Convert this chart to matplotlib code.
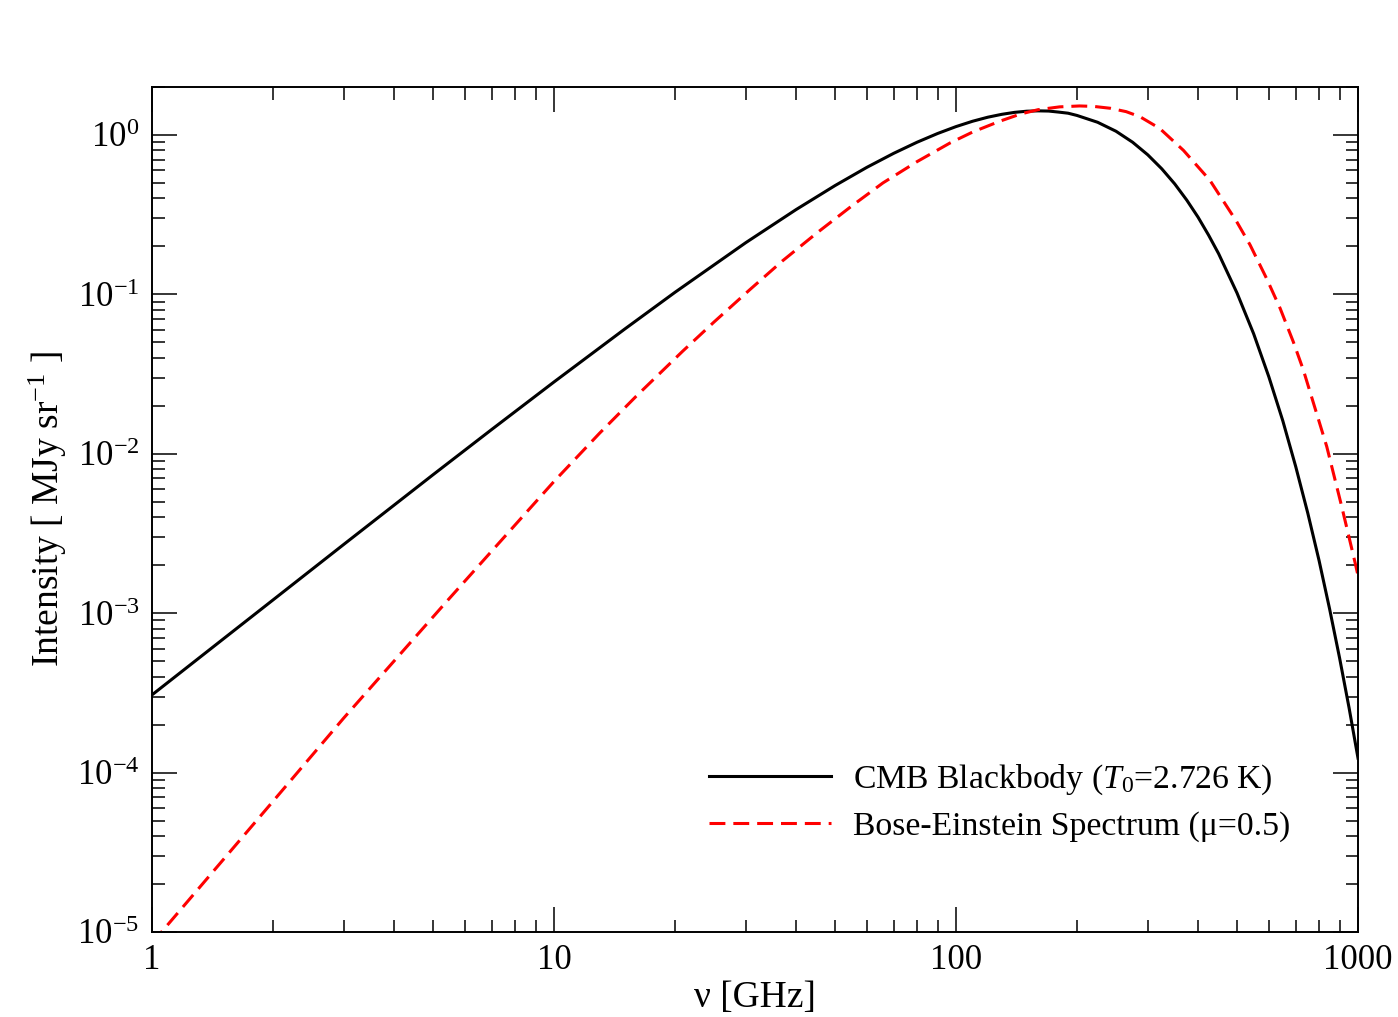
import math
import matplotlib
matplotlib.use("Agg")
import matplotlib.pyplot as plt
from matplotlib.ticker import LogLocator, FixedLocator, FuncFormatter, NullFormatter

plt.rcParams["font.family"] = ["Liberation Serif", "DejaVu Serif"]
plt.rcParams["mathtext.fontset"] = "custom"
plt.rcParams["mathtext.rm"] = "Liberation Serif"
plt.rcParams["mathtext.it"] = "Liberation Serif:italic"
plt.rcParams["mathtext.bf"] = "Liberation Serif:bold"

# CMB blackbody (GHz, MJy/sr)
bb_freq = [1, 1.5, 2, 3, 5, 7, 10, 15, 20, 30, 40, 50, 60, 70, 80, 90, 100, 110, 120,
           130, 140, 150, 160, 170, 180, 190, 200, 225, 250, 275, 300, 325, 350, 375,
           400, 425, 450, 500, 550, 600, 650, 700, 750, 800, 850, 900, 950, 1000]
bb_int = [3.07e-4, 6.85e-4, 1.21e-3, 2.70e-3, 7.38e-3, 1.42e-2, 2.82e-2, 6.06e-2,
          0.103, 0.211, 0.340, 0.481, 0.626, 0.767, 0.900, 1.021, 1.128, 1.219, 1.292,
          1.347, 1.386, 1.409, 1.416, 1.412, 1.391, 1.369, 1.325, 1.201, 1.055, 0.900,
          0.750, 0.613, 0.493, 0.390, 0.305, 0.235, 0.180, 0.102, 5.66e-2, 3.04e-2,
          1.61e-2, 8.30e-3, 4.24e-3, 2.14e-3, 1.06e-3, 5.22e-4, 2.55e-4, 1.23e-4]

# Bose-Einstein spectrum (mu = 0.5)
be_freq = [1.0, 2.0, 3.0, 5.45, 10, 13, 16, 20.9, 25, 30.7, 37, 45.1, 55, 65.8, 80,
           96.6, 110, 128.6, 145, 160, 181, 203, 220, 242, 265, 287, 321, 368, 428,
           499, 539, 593, 640, 690, 731, 836, 911, 984, 1000]
be_int = [8.5e-6, 6.6e-5, 2.2e-4, 1.21e-3, 6.7e-3, 1.35e-2, 2.29e-2, 4.4e-2, 6.7e-2,
          0.107, 0.162, 0.243, 0.358, 0.50, 0.68, 0.89, 1.043, 1.22, 1.355, 1.44,
          1.50, 1.52, 1.51, 1.47, 1.40, 1.30, 1.10, 0.80, 0.52, 0.286, 0.204, 0.125,
          0.0818, 0.0505, 0.0336, 0.0111, 4.66e-3, 2.06e-3, 1.72e-3]

x_ticks = [1, 10, 100, 1000]

fig = plt.figure(figsize=(13.98, 10.17), dpi=100)
ax = fig.add_axes([0.1087, 0.0836, 0.8627, 0.8309])

ax.plot(bb_freq, bb_int, color="black", lw=2.2, label=r"CMB Blackbody ($T_0$=2.726 K)")
ax.plot(be_freq, be_int, color="#ff0000", lw=2.2, dashes=(5.2, 2.6),
        label="Bose-Einstein Spectrum (μ=0.5)")

ax.set_xscale("log"); ax.set_yscale("log")
ax.set_xlim(1, 1000); ax.set_ylim(1e-5, 2.0)

ax.xaxis.set_major_locator(FixedLocator(x_ticks))
ax.xaxis.set_major_formatter(FuncFormatter(lambda v, p: f"{v:g}"))
ax.xaxis.set_minor_locator(LogLocator(base=10, subs=range(2, 10), numticks=20))
ax.xaxis.set_minor_formatter(NullFormatter())
ax.yaxis.set_major_locator(LogLocator(base=10, numticks=20))
ax.yaxis.set_major_formatter(FuncFormatter(lambda v, p: r"$10^{%d}$" % round(math.log10(v))))
ax.yaxis.set_minor_locator(LogLocator(base=10, subs=range(2, 10), numticks=20))
ax.yaxis.set_minor_formatter(NullFormatter())

ax.tick_params(which="both", direction="in", top=True, right=True, width=1.1, labelsize=25)
ax.tick_params(which="major", length=18)
ax.tick_params(which="minor", length=9)
ax.tick_params(axis="x", pad=9)
ax.tick_params(axis="y", pad=9)
for s in ax.spines.values():
    s.set_linewidth(1.4)

ax.set_xlabel("ν [GHz]", fontsize=27, labelpad=2)
ax.set_ylabel(r"Intensity [ MJy sr$^{-1}$ ]", fontsize=27, labelpad=6)

ax.legend(loc="upper left", bbox_to_anchor=(0.462, 0.2), frameon=False, fontsize=24.3,
          handlelength=3.6, handletextpad=0.65, labelspacing=0.42,
          borderpad=0, borderaxespad=0)

fig.savefig("out.png", dpi=100, facecolor="white")
